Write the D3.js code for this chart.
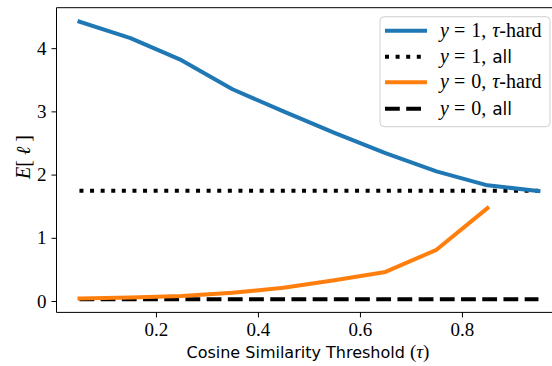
<html>
<head>
<script src="https://cdn.jsdelivr.net/npm/d3@7"></script>
<style>
 body { margin: 0; background: #fff; }
 .math { font-family: "Liberation Serif", "DejaVu Serif", serif; }
 .sans { font-family: "DejaVu Sans", sans-serif; }
</style>
</head>
<body>
<script>
// data
var tau = [0.05, 0.15, 0.25, 0.35, 0.45, 0.55, 0.65, 0.75, 0.85, 0.95];
var hardY1 = [4.42, 4.16, 3.81, 3.35, 3.00, 2.66, 2.34, 2.05, 1.83, 1.74];
var hardY0 = [0.04, 0.055, 0.08, 0.13, 0.21, 0.33, 0.46, 0.81, 1.47];
var allY1 = 1.745;
var allY0 = 0.03;
var xTicks = [0.2, 0.4, 0.6, 0.8];
var yTicks = [0, 1, 2, 3, 4];

var svg = d3.select("body").append("svg").attr("width", 552).attr("height", 366),
    margin = {top: 7.7, left: 56.5, bottom: 312.4, right: 561.4};

var x = d3.scaleLinear().domain([0.005, 0.995]).range([margin.left, margin.right]),
    y = d3.scaleLinear().domain([-0.18, 4.64]).range([margin.bottom, margin.top]);

var line = d3.line()
    .x(function(d) { return x(d[0]); })
    .y(function(d) { return y(d[1]); });

// series
svg.append("path")
    .datum(tau.map(function(t) { return [t, allY1]; }))
    .attr("d", line).attr("fill", "none").attr("stroke", "#000")
    .attr("stroke-width", 4).attr("stroke-dasharray", "4,6.6");

svg.append("path")
    .datum(tau.map(function(t) { return [t, allY0]; }))
    .attr("d", line).attr("fill", "none").attr("stroke", "#000")
    .attr("stroke-width", 4).attr("stroke-dasharray", "14.8,6.4");

svg.append("path")
    .datum(tau.map(function(t, i) { return [t, hardY1[i]]; }))
    .attr("d", line).attr("fill", "none").attr("stroke", "#1f77b4")
    .attr("stroke-width", 4).attr("stroke-linecap", "square").attr("stroke-linejoin", "round");

svg.append("path")
    .datum(hardY0.map(function(v, i) { return [tau[i], v]; }))
    .attr("d", line).attr("fill", "none").attr("stroke", "#ff7f0e")
    .attr("stroke-width", 4).attr("stroke-linecap", "square").attr("stroke-linejoin", "round");

// axes
var xAxis = svg.append("g")
    .attr("transform", "translate(0," + margin.bottom + ")")
    .call(d3.axisBottom(x).tickValues(xTicks).tickSize(5).tickPadding(5).tickFormat(d3.format(".1f")));
var yAxis = svg.append("g")
    .attr("transform", "translate(" + margin.left + ",0)")
    .call(d3.axisLeft(y).tickValues(yTicks).tickSize(5).tickPadding(5).tickFormat(d3.format("d")));

[xAxis, yAxis].forEach(function(a) {
  a.select(".domain").remove();
  a.selectAll("line").attr("stroke", "#000").attr("stroke-width", 1);
  a.selectAll("text").attr("class", "math").style("font-size", "19px").attr("fill", "#000");
});

// spines
svg.append("line").attr("x1", margin.left).attr("x2", margin.left)
    .attr("y1", margin.top).attr("y2", margin.bottom).attr("stroke", "#000");
svg.append("line").attr("x1", margin.left).attr("x2", margin.right)
    .attr("y1", margin.bottom).attr("y2", margin.bottom).attr("stroke", "#000");
svg.append("line").attr("x1", margin.left).attr("x2", margin.right)
    .attr("y1", margin.top).attr("y2", margin.top).attr("stroke", "#000");

// axis labels
var xl = svg.append("text").attr("x", (56.5 + 561.4) / 2 - 1).attr("y", 358)
    .attr("text-anchor", "middle").attr("class", "sans").style("font-size", "16px");
xl.append("tspan").text("Cosine Similarity Threshold ");
xl.append("tspan").attr("class", "math").style("font-size", "19px").text("(");
xl.append("tspan").attr("class", "math").style("font-size", "19px").style("font-style", "italic").text("τ");
xl.append("tspan").attr("class", "math").style("font-size", "19px").text(")");

var yl = svg.append("text").attr("transform", "translate(30,157) rotate(-90)")
    .attr("text-anchor", "middle").attr("class", "math").style("font-size", "20px");
yl.append("tspan").style("font-style", "italic").text("E");
yl.append("tspan").text("[ ");
yl.append("tspan").style("font-style", "italic").text("ℓ");
yl.append("tspan").text(" ]");

// legend
var legend = svg.append("g");
legend.append("rect").attr("x", 380).attr("y", 16.7).attr("width", 170).attr("height", 110)
    .attr("rx", 4).attr("fill", "#fff").attr("fill-opacity", 0.8)
    .attr("stroke", "#d0d0d0").attr("stroke-width", 1);

var entries = [
  {val: "1", tail: "hard", color: "#1f77b4", dash: null},
  {val: "1", tail: "all", color: "#000", dash: "4,6.6"},
  {val: "0", tail: "hard", color: "#ff7f0e", dash: null},
  {val: "0", tail: "all", color: "#000", dash: "14.8,6.4"}
];
var rowY = [30.7, 56.7, 82.3, 108.8];

entries.forEach(function(e, i) {
  var ly = rowY[i];
  legend.append("line").attr("x1", 385).attr("x2", 427).attr("y1", ly).attr("y2", ly)
      .attr("stroke", e.color).attr("stroke-width", 4)
      .attr("stroke-dasharray", e.dash);
  var t = legend.append("text").attr("x", 440).attr("y", ly + 6).attr("class", "math")
      .style("font-size", "20px");
  t.append("tspan").style("font-style", "italic").text("y");
  t.append("tspan").attr("dx", 5).text("=");
  t.append("tspan").attr("dx", 6).text(e.val + ",");
  if (e.tail == "hard") {
    t.append("tspan").attr("dx", 6).style("font-style", "italic").text("τ");
    t.append("tspan").text("-hard");
  } else {
    t.append("tspan").attr("dx", 6).attr("class", "sans").style("font-size", "17px").text("all");
  }
});
</script>
</body>
</html>
